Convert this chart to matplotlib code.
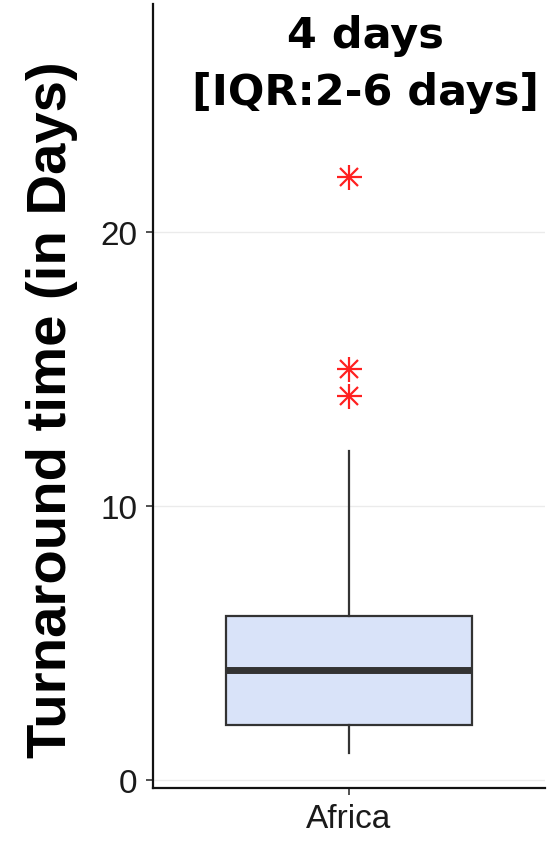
import matplotlib
matplotlib.use("Agg")
import matplotlib.pyplot as plt

# Data
categories = ["Africa"]
q1 = [2]
median = [4]
q3 = [6]
whisker_low = [1]
whisker_high = [12]
outliers = [[14, 15, 22]]
y_ticks = [0, 10, 20]
title_text = "4 days\n[IQR:2-6 days]"
y_label = "Turnaround time (in Days)"

fig = plt.figure(figsize=(5.5, 8.54), dpi=100)
ax = fig.add_axes([153/550, 1-789/854, (545-153)/550, (789-5)/854])

stats = []
for i, c in enumerate(categories):
    stats.append(dict(med=median[i], q1=q1[i], q3=q3[i],
                      whislo=whisker_low[i], whishi=whisker_high[i],
                      fliers=outliers[i], label=c))

positions = list(range(1, len(categories) + 1))
ax.bxp(stats, positions=positions, widths=0.75, patch_artist=True,
       showcaps=False,
       boxprops=dict(facecolor="#D9E3F9", edgecolor="#333333", linewidth=1.6),
       medianprops=dict(color="#333333", linewidth=5, solid_capstyle="butt"),
       whiskerprops=dict(color="#333333", linewidth=1.6),
       flierprops=dict(marker="+", markersize=18, markeredgecolor="#FF2020",
                       markeredgewidth=1.6, linestyle="none"),
       zorder=3)
for p, f in zip(positions, outliers):
    ax.plot([p] * len(f), f, linestyle="none", marker="x", markersize=13,
            markeredgecolor="#FF2020", markeredgewidth=1.6, zorder=4)

ax.set_xlim(0.4, 1.6)
ax.set_ylim(-0.29, 28.32)
ax.set_yticks(y_ticks)
ax.set_yticklabels([str(t) for t in y_ticks])
ax.set_xticks(positions)
ax.set_xticklabels(categories)
ax.yaxis.grid(True, color="#EBEBEB", linewidth=1, zorder=0)
ax.set_axisbelow(True)
for s in ["top", "right"]:
    ax.spines[s].set_visible(False)
for s in ["left", "bottom"]:
    ax.spines[s].set_linewidth(1.6)
    ax.spines[s].set_color("#111111")
ax.tick_params(axis="both", length=5, width=1.2, color="#333333",
               labelsize=24, labelcolor="#1a1a1a", pad=6)
for lab in ax.get_xticklabels() + ax.get_yticklabels():
    lab.set_family("Liberation Sans")

fig.text(52/550, 1 - 410/854, y_label, rotation=90, ha="center", va="center",
         fontsize=40.5, fontweight="bold", family="Liberation Sans")
fig.text(365/550, 1 - 15/854, title_text, ha="center", va="top",
         fontsize=31, fontweight="bold", family="DejaVu Sans", linespacing=1.45)

fig.savefig("out.png", dpi=100)
